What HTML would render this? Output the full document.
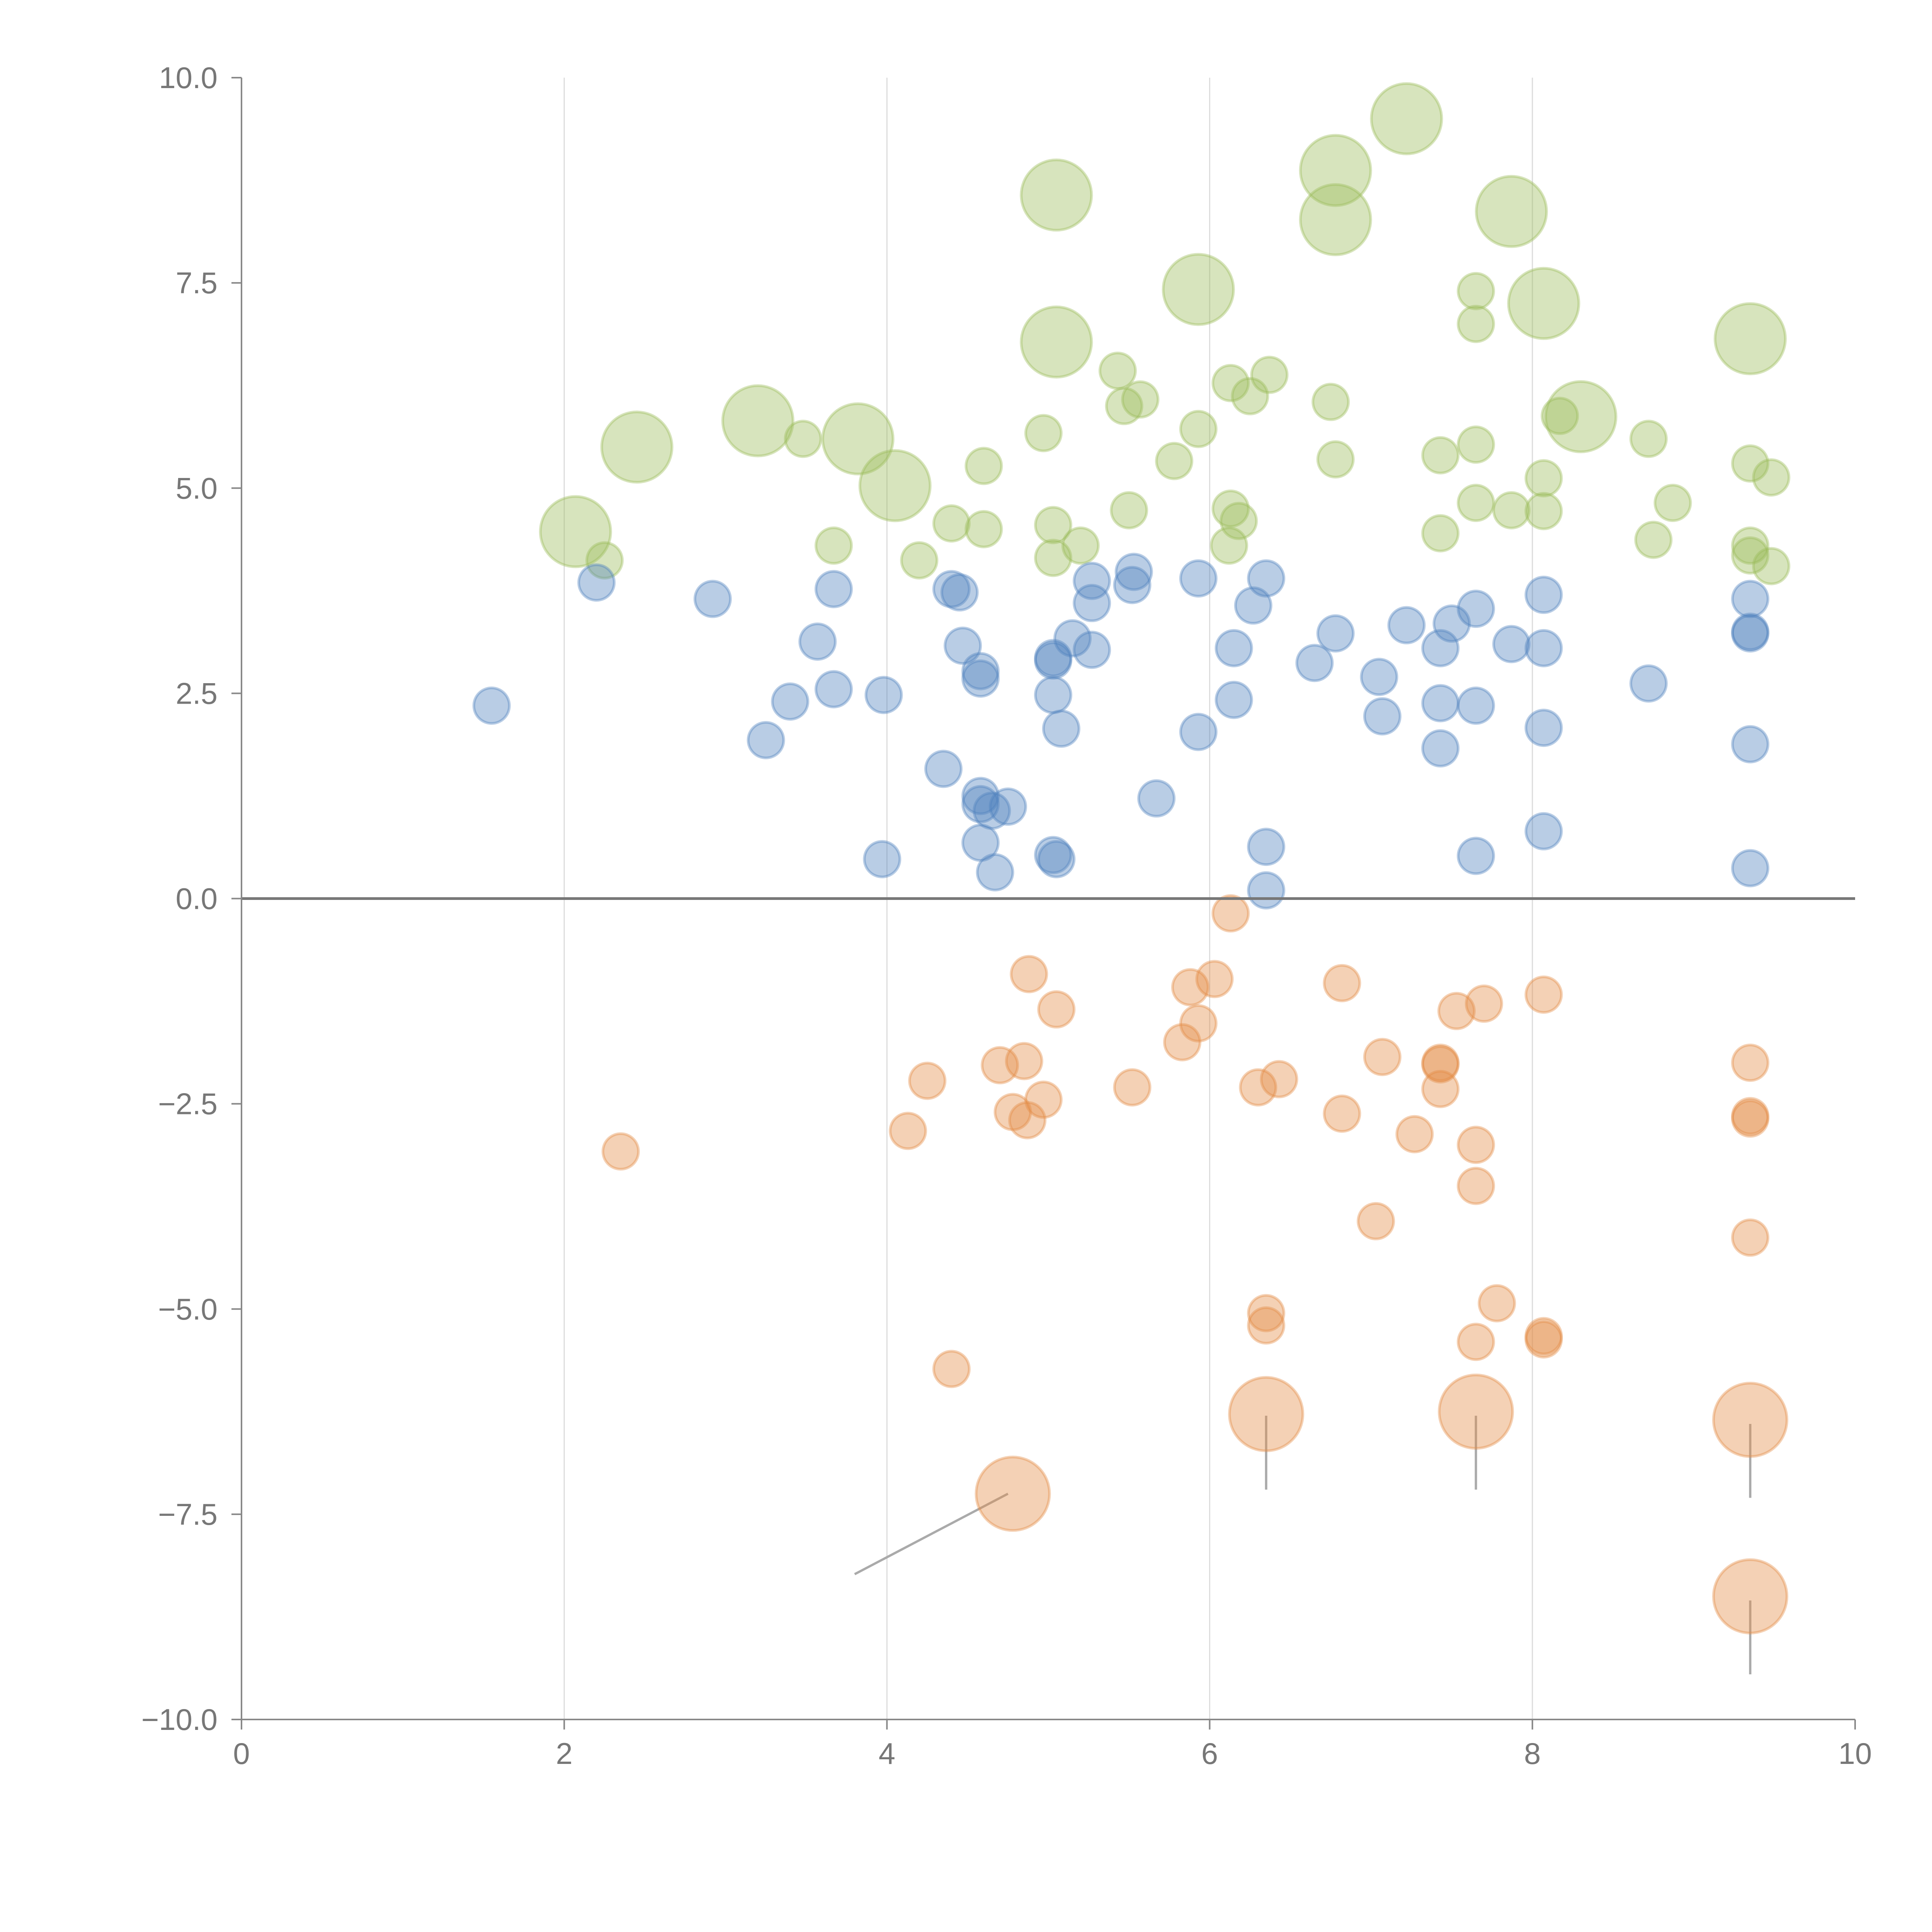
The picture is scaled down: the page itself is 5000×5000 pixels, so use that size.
<!DOCTYPE html>
<html><head><meta charset="utf-8"><style>html,body{margin:0;padding:0;background:#fff}svg{display:block}</style></head>
<body>
<svg id="chart" width="5000" height="5000" viewBox="0 0 5000 5000" xmlns="http://www.w3.org/2000/svg" font-family="Liberation Sans, sans-serif"></svg>
<script>
const xTicks=[0,2,4,6,8,10];
const yTicks=[10,7.5,5,2.5,0,-2.5,-5,-7.5,-10];
const yTickLabels=["10.0","7.5","5.0","2.5","0.0","\u22122.5","\u22125.0","\u22127.5","\u221210.0"];
const greenX=[5.05,6.78,6.78,7.22,7.87,5.93,8.07,9.35,5.05,3.2,3.82,4.05,2.45,2.07,8.3,2.25,3.48,3.67,4.2,4.4,4.6,4.6,4.97,5.03,5.03,5.2,5.43,5.47,5.57,5.5,5.78,5.93,6.13,6.25,6.37,6.13,6.12,6.18,6.75,6.78,7.43,7.43,7.65,7.65,7.65,7.65,7.87,8.07,8.07,8.17,8.72,8.75,8.87,9.35,9.35,9.35,9.48,9.48];
const greenY=[8.57,8.87,8.27,9.5,8.37,7.42,7.25,6.82,6.78,5.82,5.6,5.03,5.5,4.47,5.87,4.12,5.6,4.3,4.12,4.57,5.27,4.5,5.67,4.55,4.15,4.3,6.43,6.0,6.08,4.73,5.33,5.72,6.28,6.12,6.38,4.75,4.3,4.6,6.05,5.35,5.4,4.45,7.4,7.0,5.53,4.82,4.73,5.12,4.72,5.88,5.6,4.37,4.82,5.3,4.3,4.18,5.13,4.05];
const greenBig=[1,1,1,1,1,1,1,1,1,1,1,1,1,1,1,0,0,0,0,0,0,0,0,0,0,0,0,0,0,0,0,0,0,0,0,0,0,0,0,0,0,0,0,0,0,0,0,0,0,0,0,0,0,0,0,0,0,0];
const blueX=[1.55,2.2,2.92,3.25,3.4,3.57,3.67,3.67,3.97,3.98,4.35,4.4,4.45,4.47,4.58,4.58,4.58,4.58,4.58,4.65,4.67,4.75,5.03,5.03,5.03,5.03,5.05,5.08,5.15,5.27,5.27,5.27,5.52,5.53,5.67,5.93,5.93,6.15,6.15,6.27,6.35,6.35,6.35,6.65,6.78,7.05,7.07,7.22,7.43,7.43,7.43,7.5,7.65,7.65,7.65,7.87,8.07,8.07,8.07,8.07,8.72,9.35,9.35,9.35,9.35,9.35];
const blueY=[2.35,3.85,3.65,1.93,2.4,3.13,2.55,3.77,0.48,2.48,1.58,3.77,3.73,3.08,2.77,2.68,1.25,1.15,0.68,1.07,0.32,1.12,2.93,2.9,2.48,0.53,0.48,2.07,3.17,3.87,3.6,3.03,3.82,3.98,1.22,3.9,2.03,3.05,2.42,3.57,3.9,0.63,0.1,2.87,3.23,2.7,2.22,3.33,3.05,2.38,1.83,3.35,3.53,2.35,0.52,3.1,3.7,3.05,2.08,0.82,2.62,3.65,3.25,3.23,1.88,0.37];
const orangeX=[2.35,4.13,4.25,4.4,4.7,4.78,4.85,4.87,4.88,4.97,5.05,5.52,5.83,5.88,5.93,6.03,6.13,6.3,6.35,6.35,6.43,6.82,6.82,7.07,7.03,7.27,7.43,7.43,7.43,7.53,7.65,7.65,7.65,7.7,7.78,8.07,8.07,8.07,9.35,9.35,9.35,9.35,4.78,6.35,7.65,9.35,9.35];
const orangeY=[-3.08,-2.83,-2.22,-5.73,-2.03,-2.6,-1.98,-2.7,-0.92,-2.45,-1.35,-2.3,-1.75,-1.08,-1.52,-0.98,-0.18,-2.3,-5.05,-5.2,-2.2,-1.03,-2.62,-1.93,-3.93,-2.87,-2.0,-2.02,-2.32,-1.37,-3.0,-3.5,-5.4,-1.28,-4.93,-1.17,-5.33,-5.37,-2.0,-2.65,-2.68,-4.13,-7.25,-6.28,-6.25,-6.35,-8.5];
const orangeBig=[0,0,0,0,0,0,0,0,0,0,0,0,0,0,0,0,0,0,0,0,0,0,0,0,0,0,0,0,0,0,0,0,0,0,0,0,0,0,0,0,0,0,1,1,1,1,1];
const leaderX1=[4.75,6.35,7.65,9.35,9.35];
const leaderY1=[-7.25,-6.3,-6.3,-6.4,-8.55];
const leaderX2=[3.8,6.35,7.65,9.35,9.35];
const leaderY2=[-8.23,-7.2,-7.2,-7.3,-9.45];

const NS="http://www.w3.org/2000/svg";
const svg=document.getElementById('chart');
const X=v=>625+v*417.6;
const Y=v=>2325.5-v*212.45;
function mk(tag,attrs,parent){const e=document.createElementNS(NS,tag);for(const k in attrs)e.setAttribute(k,attrs[k]);(parent||svg).appendChild(e);return e;}

xTicks.forEach(t=>{if(t>0&&t<10){const g=mk('line',{x1:X(t),x2:X(t),y1:Y(10),y2:Y(-10),stroke:'#dcdcdc','stroke-width':3});

}});

for(let i=0;i<leaderX1.length;i++){const l=mk('line',{x1:X(leaderX1[i]),y1:Y(leaderY1[i]),x2:X(leaderX2[i]),y2:Y(leaderY2[i]),stroke:'#aaaaaa','stroke-width':6});

}

function series(xs,ys,big,color,rs,rb,name){
  for(let i=0;i<xs.length;i++){
    const c=mk('circle',{cx:X(xs[i]),cy:Y(ys[i]),r:(big&&big[i])?rb:rs,fill:color,'fill-opacity':0.4,stroke:color,'stroke-opacity':0.4,'stroke-width':7});
    
    
  }
}
series(greenX,greenY,greenBig,'#9bbb59',46,91,'green-bubble');
series(blueX,blueY,null,'#4f81bd',46,46,'blue-bubble');
series(orangeX,orangeY,orangeBig,'#e38b45',46,95,'orange-bubble');

const z=mk('line',{x1:X(0),x2:X(10),y1:Y(0),y2:Y(0),stroke:'#777','stroke-width':7});



const ya=mk('line',{x1:X(0),x2:X(0),y1:Y(10),y2:Y(-10),stroke:'#888','stroke-width':4});


const xa=mk('line',{x1:X(0),x2:X(10),y1:Y(-10),y2:Y(-10),stroke:'#888','stroke-width':4});



yTicks.forEach((t,i)=>{
  const tk=mk('line',{x1:X(0)-26,x2:X(0),y1:Y(t),y2:Y(t),stroke:'#888','stroke-width':4});
  
  
  const tx=mk('text',{x:X(0)-62,y:Y(t)+27,'text-anchor':'end','font-size':78,fill:'#777'});
  tx.textContent=yTickLabels[i];
  
  
});
xTicks.forEach(t=>{
  const tk=mk('line',{x1:X(t),x2:X(t),y1:Y(-10),y2:Y(-10)+26,stroke:'#888','stroke-width':4});
  
  
  const tx=mk('text',{x:X(t),y:Y(-10)+115,'text-anchor':'middle','font-size':78,fill:'#777'});
  tx.textContent=String(t);
  
  
});
</script>
</body></html>
